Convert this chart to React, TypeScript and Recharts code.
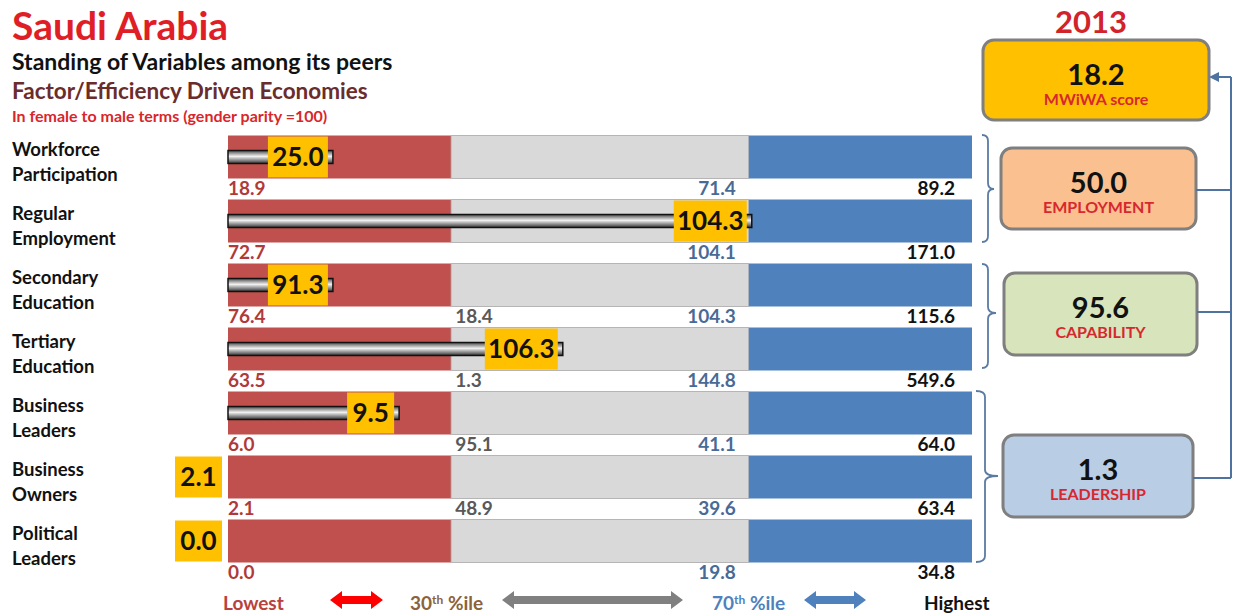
import React from "react";
import { BarChart, Bar, XAxis, YAxis, LabelList } from "recharts";

// rows, top to bottom
const categories = [
  "Workforce Participation",
  "Regular Employment",
  "Secondary Education",
  "Tertiary Education",
  "Business Leaders",
  "Business Owners",
  "Political Leaders",
];
// country score (female to male, parity = 100)
const scores = [25.0, 104.3, 91.3, 106.3, 9.5, 2.1, 0.0];
// where the score falls on the percentile scale (0-100)
const positions = [14.1, 70.4, 14.1, 45.0, 23.0, 0, 0];
const lowest = [18.9, 72.7, 76.4, 63.5, 6.0, 2.1, 0.0];
const pct30 = [null, null, 18.4, 1.3, 95.1, 48.9, null];
const pct70 = [71.4, 104.1, 104.3, 144.8, 41.1, 39.6, 19.8];
const highest = [89.2, 171.0, 115.6, 549.6, 64.0, 63.4, 34.8];
// percentile bands: lowest-30th, 30th-70th, 70th-highest
const bands = [30, 40, 30];

const pillarNames = ["MWiWA score", "EMPLOYMENT", "CAPABILITY", "LEADERSHIP"];
const pillarScores = [18.2, 50.0, 95.6, 1.3];
const year = "2013";

const rows = categories.map((name, i) => ({
  name,
  low: bands[0],
  mid: bands[1],
  high: bands[2],
  pos: positions[i],
  score: scores[i],
  lowest: lowest[i],
  p30: pct30[i],
  p70: pct70[i],
  highest: highest[i],
}));

const FONT = "Lato, 'Open Sans', sans-serif";
const CW = 1000;
const CH = 614;

const fmt = (v: number) => v.toFixed(1);

function box(props: any) {
  const vb = props.viewBox || props;
  return vb;
}

const belowLabel =
  (color: string, anchor: "start" | "end", dx: (b: any) => number) =>
  (props: any) => {
    const { value } = props;
    if (value === null || value === undefined) return null;
    const b = box(props);
    return (
      <text
        x={dx(b)}
        y={b.y + b.height + 16}
        textAnchor={anchor}
        fontFamily={FONT}
        fontWeight={700}
        fontSize={19}
        fill={color}
      >
        {fmt(Number(value))}
      </text>
    );
  };

const RowTick = (props: any) => {
  const { y, payload } = props;
  const words = String(payload.value).split(" ");
  return (
    <text fontFamily={FONT} fontWeight={700} fontSize={18.5} fill="#111">
      <tspan x={12} y={y - 1}>
        {words[0]}
      </tspan>
      <tspan x={12} y={y + 24}>
        {words.slice(1).join(" ")}
      </tspan>
    </text>
  );
};

const Cylinder = (props: any) => {
  const { x, y, width, height } = props;
  if (!width || width <= 0) return <g />;
  const h = 13;
  return (
    <rect
      x={x}
      y={y + height / 2 - h / 2}
      width={width}
      height={h}
      fill="url(#cyl)"
      stroke="#111"
      strokeWidth={1.5}
    />
  );
};

const ScoreBox = (props: any) => {
  const { value } = props;
  const b = box(props);
  const txt = fmt(Number(value));
  const w = txt.length * 13 + 8;
  const right = b.width > 0 ? b.x + b.width - 5 : b.x - 6;
  return (
    <g>
      <rect x={right - w} y={b.y + 1} width={w} height={b.height - 2} fill="#FFC000" />
      <text
        x={right - w / 2}
        y={b.y + b.height / 2 + 9}
        textAnchor="middle"
        fontFamily={FONT}
        fontWeight={700}
        fontSize={26}
        fill="#111"
      >
        {txt}
      </text>
    </g>
  );
};

function brace(x0: number, xs: number, xt: number, y1: number, y2: number, ym: number) {
  return `M${x0},${y1} Q${xs},${y1} ${xs},${y1 + 6} L${xs},${ym - 6} Q${xs},${ym} ${xt},${ym} Q${xs},${ym} ${xs},${ym + 6} L${xs},${y2 - 6} Q${xs},${y2} ${x0},${y2}`;
}

function dblArrow(x1: number, x2: number, y: number) {
  const hl = 12;
  const hh = 9;
  const sh = 4;
  return `M${x1},${y} L${x1 + hl},${y - hh} L${x1 + hl},${y - sh} L${x2 - hl},${y - sh} L${x2 - hl},${y - hh} L${x2},${y} L${x2 - hl},${y + hh} L${x2 - hl},${y + sh} L${x1 + hl},${y + sh} L${x1 + hl},${y + hh} Z`;
}

const pillarBoxes = [
  { x: 983, y: 40, w: 226, h: 80, fill: "#FFC000" },
  { x: 1001, y: 148, w: 195, h: 81, fill: "#FAC090" },
  { x: 1004, y: 273, w: 193, h: 82, fill: "#D7E4BC" },
  { x: 1003, y: 435, w: 190, h: 82, fill: "#B9CDE5" },
];

const chartMargin = { top: 124.5, right: 28, bottom: 41.5, left: 0 };

export default function App() {
  return (
    <div
      style={{
        position: "absolute",
        left: 0,
        top: 0,
        width: 1236,
        height: 614,
        background: "#fff",
        overflow: "hidden",
      }}
    >
      <svg width={1236} height={614} style={{ position: "absolute", left: 0, top: 0 }}>
        <text x={12} y={40} fontFamily={FONT} fontWeight={700} fontSize={39} fill="#E01E26">
          Saudi Arabia
        </text>
        <text x={12} y={70} fontFamily={FONT} fontWeight={700} fontSize={23} fill="#111">
          Standing of Variables among its peers
        </text>
        <text x={12} y={99} fontFamily={FONT} fontWeight={700} fontSize={22.5} fill="#6B2C2C">
          Factor/Efficiency Driven Economies
        </text>
        <text x={12} y={122} fontFamily={FONT} fontWeight={700} fontSize={16} fill="#D9262B">
          In female to male terms (gender parity =100)
        </text>

        {/* right-hand summary */}
        <text x={1091} y={33} textAnchor="middle" fontFamily={FONT} fontWeight={700} fontSize={31} fill="#D2232A">
          {year}
        </text>
        {pillarBoxes.map((b, i) => (
          <g key={i}>
            <rect x={b.x} y={b.y} width={b.w} height={b.h} rx={11} fill={b.fill} stroke="#7F7F7F" strokeWidth={3} />
            <text x={b.x + b.w / 2} y={b.y + 45} textAnchor="middle" fontFamily={FONT} fontWeight={700} fontSize={29} fill="#111">
              {fmt(pillarScores[i])}
            </text>
            <text x={b.x + b.w / 2} y={b.y + 65} textAnchor="middle" fontFamily={FONT} fontWeight={700} fontSize={16} fill="#D7282F">
              {pillarNames[i]}
            </text>
          </g>
        ))}
        <g stroke="#5B7BA3" strokeWidth={1.8} fill="none">
          <path d={brace(982, 988, 994, 135, 242, 189)} />
          <path d={brace(982, 988, 996, 264, 368, 313)} />
          <path d={brace(976, 985, 998, 391, 562, 476)} />
        </g>
        <g stroke="#4F73A0" strokeWidth={2} fill="none">
          <line x1={1231} y1={77} x2={1231} y2={478} />
          <line x1={1196} y1={190} x2={1231} y2={190} />
          <line x1={1197} y1={312} x2={1231} y2={312} />
          <line x1={1193} y1={478} x2={1231} y2={478} />
          <line x1={1216} y1={77} x2={1231} y2={77} />
        </g>
        <polygon points="1209,77 1219,72 1219,82" fill="#4F73A0" />

        {/* legend */}
        <g fontFamily={FONT} fontWeight={700} fontSize={19}>
          <text x={223} y={610} fill="#B8413E">Lowest</text>
          <path d={dblArrow(330, 383, 600)} fill="#FF0000" />
          <text x={410} y={610} fill="#8C6239">
            30<tspan fontSize={12} dy={-6}>th</tspan>
            <tspan dy={6}> %ile</tspan>
          </text>
          <path d={dblArrow(502, 683, 600)} fill="#808080" />
          <text x={712} y={610} fill="#4F81BD">
            70<tspan fontSize={12} dy={-6}>th</tspan>
            <tspan dy={6}> %ile</tspan>
          </text>
          <path d={dblArrow(804, 866, 600)} fill="#4F81BD" />
          <text x={924} y={610} fill="#111">Highest</text>
        </g>
      </svg>

      {/* percentile bands */}
      <div style={{ position: "absolute", left: 0, top: 0 }}>
        <BarChart width={CW} height={CH} data={rows} layout="vertical" margin={chartMargin} barSize={43}>
          <XAxis type="number" domain={[0, 100]} hide />
          <YAxis
            type="category"
            dataKey="name"
            width={228}
            axisLine={false}
            tickLine={false}
            tick={<RowTick />}
            interval={0}
          />
          <Bar dataKey="low" stackId="bg" fill="#C0504D" isAnimationActive={false}>
            <LabelList dataKey="lowest" content={belowLabel("#B03A3A", "start", (b) => b.x)} />
          </Bar>
          <Bar dataKey="mid" stackId="bg" fill="#D9D9D9" stroke="#B5B5B5" strokeWidth={1} isAnimationActive={false}>
            <LabelList dataKey="p30" content={belowLabel("#595959", "start", (b) => b.x + 4)} />
            <LabelList dataKey="p70" content={belowLabel("#4A6A96", "end", (b) => b.x + b.width - 13)} />
          </Bar>
          <Bar dataKey="high" stackId="bg" fill="#4F81BD" isAnimationActive={false}>
            <LabelList dataKey="highest" content={belowLabel("#111", "end", (b) => b.x + b.width - 17)} />
          </Bar>
        </BarChart>
      </div>

      {/* country position */}
      <div style={{ position: "absolute", left: 0, top: 0 }}>
        <BarChart
          width={CW}
          height={CH}
          data={rows}
          layout="vertical"
          margin={{ ...chartMargin, left: 228 }}
          barSize={43}
        >
          <defs>
            <linearGradient id="cyl" x1="0" y1="0" x2="0" y2="1">
              <stop offset="0" stopColor="#4a4a4a" />
              <stop offset="0.45" stopColor="#f2f2f2" />
              <stop offset="1" stopColor="#333" />
            </linearGradient>
          </defs>
          <XAxis type="number" domain={[0, 100]} hide />
          <YAxis type="category" dataKey="name" hide />
          <Bar dataKey="pos" fill="#888" shape={<Cylinder />} isAnimationActive={false}>
            <LabelList dataKey="score" content={ScoreBox} />
          </Bar>
        </BarChart>
      </div>
    </div>
  );
}
